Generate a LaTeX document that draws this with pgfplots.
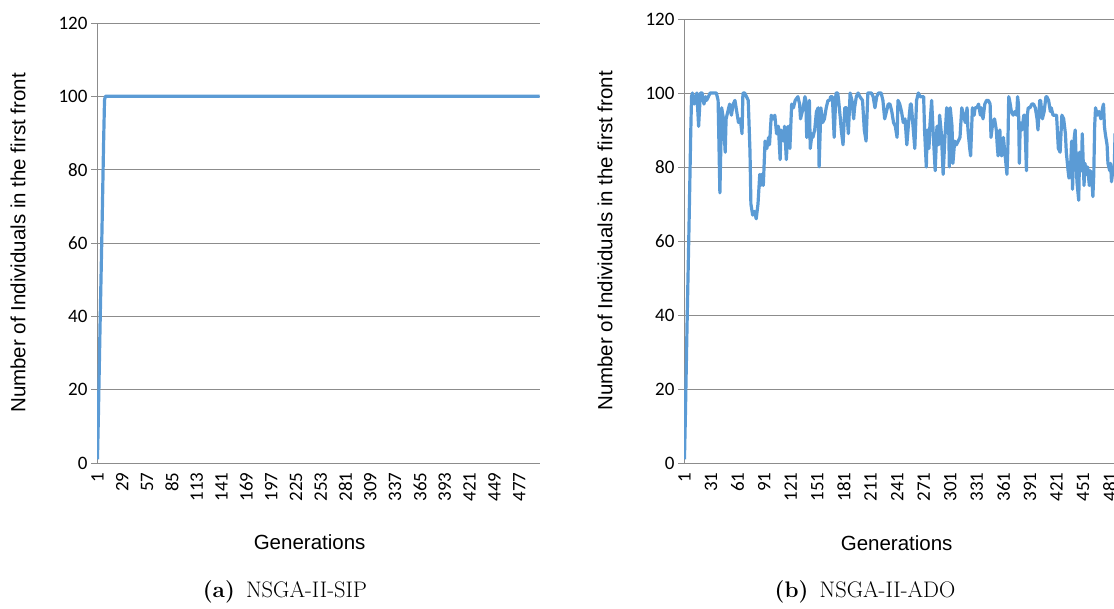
\documentclass[border=0pt]{standalone}
\usepackage{pgfplots}
\pgfplotsset{compat=1.18}
\usepackage{fontspec}
\newfontfamily\arial{Liberation Sans}
\newfontfamily\calibri{Carlito}
\definecolor{exblue}{HTML}{5B9BD5}
\definecolor{exgrid}{HTML}{8C8C8C}

\pgfplotsset{excel/.style={
  scale only axis, width=443pt, height=440pt, anchor=south west,
  xmin=0.5, xmax=500.5, ymin=0, ymax=120, ytick={0,20,...,120},
  axis x line*=bottom, axis y line*=left,
  axis line style={draw=exgrid, line width=0.9pt, -},
  ymajorgrids, grid style={draw=exgrid, line width=0.9pt},
  tick align=outside, major tick length=6pt,
  ytick style={draw=exgrid, line width=0.9pt}, xtick style={draw=none},
  /pgf/number format/assume math mode=true,
  tick label style={font=\calibri\fontsize{19}{21}\selectfont},
  xticklabel style={rotate=90, anchor=east},
  label style={font=\arial\fontsize{20.5}{24}\selectfont},
  xlabel={Generations}, ylabel={Number of Individuals in the first front},
  xlabel style={at={(axis description cs:0.48,-0.18)}, anchor=center},
  ylabel style={at={(axis description cs:-0.178,0.5)}, anchor=center},
}}

\pgfplotstableread{
g v
1 1
2 12
3 25
4 38
5 50
6 62
7 75
8 88
9 99
10 100
500 100
}\sip

\pgfplotstableread{
g v
1 1
2 12
3 25
4 38
5 50
6 62
7 75
8 88
9 99
10 100
12 97
13 98
15 100
17 91
19 100
21 100
23 97
25 99
26 98
28 99
30 100
33 100
37 100
39 98
41 73
43 96
45 93
47 84
48 93
50 95
52 97
54 94
56 97
58 98
60 95
62 92
64 93
66 89
67 100
69 100
71 99
73 98
75 84
76 70
78 67
80 68
82 66
84 70
86 78
87 75
88 78
90 75
92 87
94 85
96 88
97 86
99 94
101 93
103 94
105 89
107 91
109 82
110 90
113 87
114 91
116 82
118 91
120 85
122 97
124 96
126 98
129 99
131 97
132 93
135 96
137 99
138 98
139 88
141 89
142 98
143 85
145 89
146 88
148 90
150 95
152 96
153 80
155 96
157 92
159 93
161 96
163 98
165 98
166 99
168 99
170 88
172 100
174 100
175 98
177 93
178 90
180 86
182 96
184 96
186 89
188 100
190 98
192 93
193 96
195 99
197 100
199 99
202 98
204 90
206 87
208 100
210 100
212 100
214 99
216 96
218 99
220 100
223 100
225 98
227 93
229 95
231 97
233 97
235 95
237 92
239 91
241 88
242 98
244 97
246 95
248 92
250 93
252 86
254 92
256 97
257 97
259 91
261 85
263 98
265 100
267 99
269 99
271 99
272 90
274 80
275 90
277 85
278 91
280 98
282 88
284 79
286 91
288 86
289 94
291 89
293 78
295 88
297 96
299 95
300 80
301 96
303 91
304 81
306 87
308 86
310 87
312 88
314 96
316 94
318 92
320 96
321 90
323 85
324 83
326 96
328 94
329 96
331 96
333 97
335 94
336 96
338 93
340 97
342 98
344 98
346 97
347 88
349 92
351 93
353 90
354 86
355 83
357 90
358 84
359 83
361 88
363 83
365 78
366 85
367 99
368 98
370 95
372 94
374 95
376 94
377 99
378 97
379 81
380 92
382 90
384 94
385 94
387 79
388 94
389 96
391 96
393 97
395 97
397 96
399 93
400 90
402 98
403 98
405 93
407 95
409 99
410 99
412 98
414 95
415 96
417 94
419 94
421 94
423 85
425 84
427 94
429 93
431 89
432 84
434 79
435 77
437 81
438 87
439 74
441 88
442 90
444 76
446 71
447 84
449 79
450 89
452 75
453 81
455 78
456 80
458 75
459 79
461 76
462 72
463 78
464 91
465 96
467 94
469 95
471 93
473 96
474 97
475 91
476 89
478 86
479 81
481 79
482 81
483 76
485 80
486 78
487 89
489 84
491 80
493 86
495 83
497 88
499 85
500 87
}\ado

\begin{document}
\begin{tikzpicture}
\begin{axis}[excel, at={(97pt,146pt)}, xtick={1,29,...,477}]
\addplot[exblue, line width=3.2pt, line join=round, no marks] table[x=g,y=v] {\sip};
\end{axis}
\begin{axis}[excel, at={(684pt,146pt)}, height=444pt, xtick={1,31,...,481}]
\addplot[exblue, line width=3.2pt, line join=round, no marks] table[x=g,y=v] {\ado};
\end{axis}
\node[font=\fontsize{22.5}{26}\selectfont] at (285pt,17pt) {\textbf{(a)}\hspace{0.5em}NSGA-II-SIP};
\node[font=\fontsize{22.5}{26}\selectfont] at (865pt,17pt) {\textbf{(b)}\hspace{0.5em}NSGA-II-ADO};
\pgfresetboundingbox
\path[use as bounding box] (0,0) rectangle (1114pt,609pt);
\end{tikzpicture}
\end{document}
